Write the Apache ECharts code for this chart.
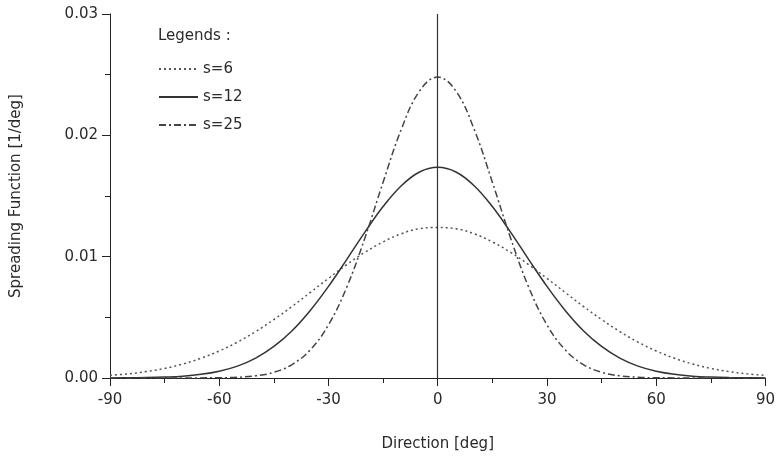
<!DOCTYPE html>
<html>
<head>
<meta charset="utf-8">
<script src="https://cdn.jsdelivr.net/npm/echarts@6/dist/echarts.min.js"></script>
<style>
  html, body { margin: 0; padding: 0; background: #fff; }
  #chart { width: 778px; height: 458px; }
</style>
</head>
<body>
<div id="chart"></div>
<script>
// Directional spreading function, sampled every 5 degrees
const directions = [-90,-85,-80,-75,-70,-65,-60,-55,-50,-45,-40,-35,-30,-25,-20,-15,-10,-5,0,
                    5,10,15,20,25,30,35,40,45,50,55,60,65,70,75,80,85,90];

const halfS6  = [0.01240,0.01231,0.01189,0.01122,0.01036,0.00934,0.00821,0.00705,0.00590,0.00482,
                 0.00383,0.00296,0.00223,0.00163,0.00115,0.00079,0.00053,0.00034,0.00022];
const halfS12 = [0.01737,0.01698,0.01585,0.01413,0.01202,0.00976,0.00755,0.00557,0.00390,0.00260,
                 0.00164,0.00098,0.00056,0.00030,0.00015,0.00008,0.00004,0.00002,0.00001];
const halfS25 = [0.02480,0.02365,0.02050,0.01614,0.01154,0.00747,0.00438,0.00232,0.00111,0.00047,
                 0.00018,0.00006,0.00002,0.00001,0.00000,0.00000,0.00000,0.00000,0.00000];

// values listed from 0 deg outward; the curves are symmetric about 0
function mirrored(half) {
  const left = half.slice(1).reverse();
  return left.concat(half);
}
const s6  = mirrored(halfS6);
const s12 = mirrored(halfS12);
const s25 = mirrored(halfS25);

const seriesNames = ['s=6', 's=12', 's=25'];
const xTicks = [-90, -60, -30, 0, 30, 60, 90];

const font = 'DejaVu Sans, Verdana, sans-serif';
const axisColor = '#222';
const textColor = '#2a2a2a';

function pairs(vals) {
  return directions.map((d, i) => [d, vals[i]]);
}

const chart = echarts.init(document.getElementById('chart'), null, { renderer: 'canvas' });

chart.setOption({
  animation: false,
  backgroundColor: '#fff',
  grid: { left: 110, right: 10, top: 14, bottom: 80, containLabel: false },
  graphic: [{
    type: 'text',
    left: 158,
    top: 29,
    style: { text: 'Legends :', font: '15px ' + font, fill: textColor }
  }],
  legend: {
    orient: 'vertical',
    left: 153,
    top: 56,
    itemWidth: 39,
    itemHeight: 16,
    itemGap: 12,
    itemStyle: { opacity: 0, borderWidth: 0 },
    textStyle: { fontFamily: font, fontSize: 15, color: textColor, lineHeight: 16 },
    data: seriesNames
  },
  xAxis: {
    type: 'value',
    min: -90,
    max: 90,
    interval: 30,
    name: 'Direction [deg]',
    nameLocation: 'middle',
    nameGap: 59,
    nameTextStyle: { fontFamily: font, fontSize: 15, color: textColor },
    axisLine: { onZero: false, lineStyle: { color: axisColor, width: 1 } },
    axisTick: { show: true, length: 8, lineStyle: { color: axisColor } },
    minorTick: { show: true, splitNumber: 2, length: 5, lineStyle: { color: axisColor } },
    axisLabel: {
      margin: 15, fontFamily: font, fontSize: 15, color: textColor,
      customValues: xTicks,
      formatter: v => String(v)
    },
    splitLine: { show: false }
  },
  yAxis: {
    type: 'value',
    min: 0,
    max: 0.03,
    interval: 0.01,
    name: 'Spreading Function [1/deg]',
    nameLocation: 'middle',
    nameGap: 86,
    nameRotate: 90,
    nameTextStyle: { fontFamily: font, fontSize: 15, color: textColor },
    axisLine: { show: true, onZero: false, lineStyle: { color: axisColor, width: 1 } },
    axisTick: { show: true, length: 8, lineStyle: { color: axisColor } },
    minorTick: { show: true, splitNumber: 2, length: 5, lineStyle: { color: axisColor } },
    axisLabel: {
      margin: 12, fontFamily: font, fontSize: 15, color: textColor,
      formatter: v => v.toFixed(2)
    },
    splitLine: { show: false }
  },
  series: [
    {
      name: seriesNames[0],
      type: 'line',
      data: pairs(s6),
      smooth: 0.4,
      showSymbol: false,
      symbol: 'none',
      color: '#555',
      lineStyle: { color: '#555', width: 1.5, type: [2, 3] },
      markLine: {
        silent: true,
        symbol: 'none',
        label: { show: false },
        lineStyle: { color: '#333', width: 1.2, type: 'solid' },
        data: [{ xAxis: 0 }]
      }
    },
    {
      name: seriesNames[1],
      type: 'line',
      data: pairs(s12),
      smooth: 0.4,
      showSymbol: false,
      symbol: 'none',
      color: '#333',
      lineStyle: { color: '#333', width: 1.5, type: 'solid' }
    },
    {
      name: seriesNames[2],
      type: 'line',
      data: pairs(s25),
      smooth: 0.4,
      showSymbol: false,
      symbol: 'none',
      color: '#444',
      lineStyle: { color: '#444', width: 1.5, type: [7, 3, 2, 3] }
    }
  ]
});
</script>
</body>
</html>
